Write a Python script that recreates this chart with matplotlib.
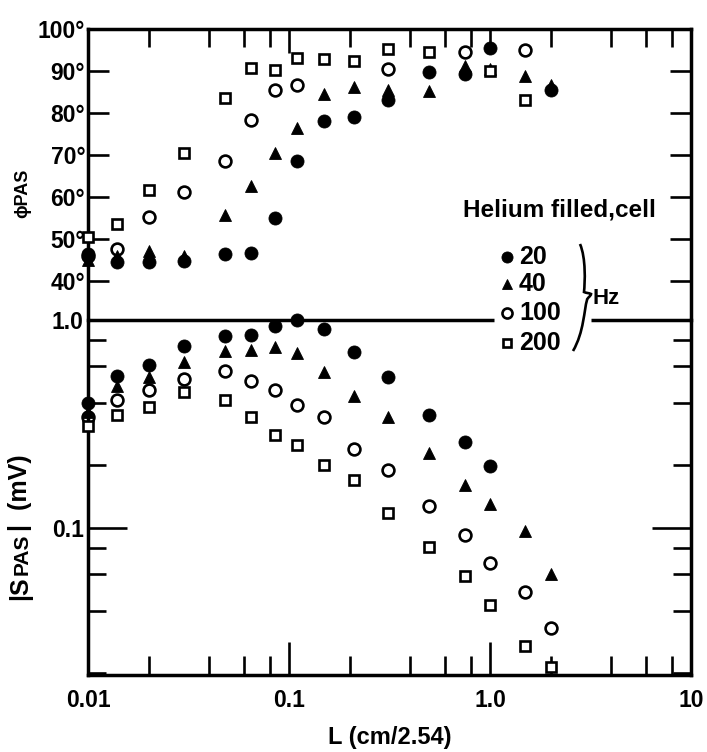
import numpy as np
import matplotlib
matplotlib.use("Agg")
import matplotlib.pyplot as plt
from matplotlib.ticker import LogLocator, NullFormatter, FixedLocator, FixedFormatter
from matplotlib.path import Path
from matplotlib.patches import PathPatch
from matplotlib.lines import Line2D

plt.rcParams['font.family'] = ['Liberation Sans', 'DejaVu Sans']
plt.rcParams['font.weight'] = 'bold'
plt.rcParams['axes.labelweight'] = 'bold'

# ---------------- data ----------------
L_values = [0.01, 0.014, 0.02, 0.03, 0.048, 0.065, 0.085, 0.11, 0.15, 0.21,
            0.31, 0.5, 0.75, 1.0, 1.5, 2.0]
nan = np.nan
phase_20hz = [46.5, 44.5, 44.6, 44.8, 46.5, 46.6, 55.0, 68.4, 78.1, 78.9,
              83.0, 89.6, 89.3, 95.5, nan, 85.5]
phase_40hz = [45.0, 46.0, 47.0, 46.0, 55.6, 62.5, 70.5, 76.3, 84.4, 86.0,
              85.3, 85.1, 91.0, 90.5, 88.8, 86.5]
phase_100hz = [46.0, 47.5, 55.3, 61.1, 68.6, 78.2, 85.4, 86.7, nan, nan,
               90.4, nan, 94.5, nan, 94.8, nan]
phase_200hz = [50.5, 53.5, 61.7, 70.4, 83.6, 90.6, 90.2, 93.0, 92.8, 92.4,
               95.2, 94.4, nan, 90.0, 83.1, nan]

amp_20hz = [0.40, 0.54, 0.61, 0.75, 0.84, 0.85, 0.94, 1.00, 0.91, 0.70,
            0.53, 0.35, 0.26, 0.198, nan, nan]
amp_40hz = [0.36, 0.48, 0.53, 0.63, 0.71, 0.72, 0.74, 0.69, 0.56, 0.43,
            0.34, 0.23, 0.16, 0.130, 0.097, 0.060]
amp_100hz = [0.34, 0.41, 0.46, 0.52, 0.57, 0.51, 0.46, 0.39, 0.34, 0.24,
             0.19, 0.127, 0.092, 0.068, 0.049, 0.033]
amp_200hz = [0.31, 0.35, 0.38, 0.45, 0.41, 0.34, 0.28, 0.25, 0.20, 0.17,
             0.118, 0.081, 0.059, 0.0425, 0.027, 0.0214]

freq_labels = ["20", "40", "100", "200"]
phase_ticks = [40, 50, 60, 70, 80, 90, 100]
phase_ticklabels = ["40°", "50°", "60°", "70°", "80°", "90°", "100°"]
amp_ticks = [0.1, 1.0]
amp_ticklabels = ["0.1", "1.0"]
x_ticks = [0.01, 0.1, 1.0, 10]
x_ticklabels = ["0.01", "0.1", "1.0", "10"]

# ---------------- layout helpers ----------------
W, H = 707, 752
def fx(px):
    return px / W
def fy(py):
    return 1 - py / H

fig = plt.figure(figsize=(7.07, 7.52), dpi=100)
fig.patch.set_facecolor('white')

x0, x1 = 88, 691
ax_top = fig.add_axes([fx(x0), fy(320), fx(x1) - fx(x0), fy(28.6) - fy(320)])
ax_bot = fig.add_axes([fx(x0), fy(675), fx(x1) - fx(x0), fy(320) - fy(675)])

styles = [
    dict(marker='o', ms=9.4, mfc='black', mec='black', mew=0.6),
    dict(marker='^', ms=9.2, mfc='black', mec='black', mew=0.6),
    dict(marker='o', ms=8.5, mfc='none', mec='black', mew=1.9),
    dict(marker='s', ms=7.0, mfc='white', mec='black', mew=1.9),
]

phase_series = [phase_20hz, phase_40hz, phase_100hz, phase_200hz]
amp_series = [amp_20hz, amp_40hz, amp_100hz, amp_200hz]

for ax, series in [(ax_top, phase_series), (ax_bot, amp_series)]:
    for i, (vals, st) in enumerate(zip(series, styles)):
        ax.plot(L_values, vals, linestyle='none', clip_on=False, zorder=3 + i, **st)
    ax.set_xscale('log')
    ax.set_xlim(0.01, 10)
    for sp in ax.spines.values():
        sp.set_linewidth(2.5)
    ax.set_facecolor('none')

# ---- top (phase) panel ----
ax_top.spines['bottom'].set_visible(False)
ax_top.set_ylim(30.7, 100)
ax_top.yaxis.set_major_locator(FixedLocator(phase_ticks))
ax_top.yaxis.set_major_formatter(FixedFormatter(phase_ticklabels))
ax_top.tick_params(axis='y', which='major', direction='in', length=15, width=1.9,
                   left=True, right=True, labelsize=16.5, pad=2)
ax_top.xaxis.set_ticks_position('top')
ax_top.xaxis.set_minor_locator(LogLocator(base=10, subs=(2, 4, 6, 8)))
ax_top.xaxis.set_minor_formatter(NullFormatter())
ax_top.tick_params(axis='x', which='both', direction='in', top=True, bottom=False,
                   labeltop=False, labelbottom=False, width=1.9)
ax_top.tick_params(axis='x', which='major', length=17)
ax_top.tick_params(axis='x', which='minor', length=13)

# ---- bottom (amplitude) panel ----
ax_bot.spines['top'].set_visible(False)
ax_bot.set_yscale('log')
ax_bot.set_ylim(0.0196, 1.0)
ax_bot.yaxis.set_major_locator(FixedLocator(amp_ticks))
ax_bot.yaxis.set_major_formatter(FixedFormatter(amp_ticklabels))
ax_bot.yaxis.set_minor_locator(LogLocator(base=10, subs=(2, 4, 6, 8)))
ax_bot.yaxis.set_minor_formatter(NullFormatter())
ax_bot.tick_params(axis='y', which='both', direction='in', left=True, right=True,
                   width=1.9, labelsize=16.5, pad=3)
ax_bot.tick_params(axis='y', which='major', length=28)
ax_bot.tick_params(axis='y', which='minor', length=13)
ax_bot.xaxis.set_major_locator(FixedLocator(x_ticks))
ax_bot.xaxis.set_major_formatter(FixedFormatter(x_ticklabels))
ax_bot.xaxis.set_minor_locator(LogLocator(base=10, subs=(2, 4, 6, 8)))
ax_bot.xaxis.set_minor_formatter(NullFormatter())
ax_bot.tick_params(axis='x', which='both', direction='in', top=False, bottom=True,
                   width=1.9, labelsize=16.5, pad=10)
ax_bot.tick_params(axis='x', which='major', length=24)
ax_bot.tick_params(axis='x', which='minor', length=14)
ax_bot.set_xlabel("L (cm/2.54)", fontsize=17, fontweight='bold', labelpad=10)

# divider line between panels (broken by the legend)
ax_bot.plot([0, 0.673], [1, 1], transform=ax_bot.transAxes, color='black',
            lw=2.5, clip_on=False, solid_capstyle='butt', zorder=2)
ax_bot.plot([0.834, 1.0], [1, 1], transform=ax_bot.transAxes, color='black',
            lw=2.5, clip_on=False, solid_capstyle='butt', zorder=2)

# ---- axis titles ----
fig.text(fx(23), fy(193), "ϕPAS", rotation=90, fontsize=13, ha='center', va='center')

t1 = fig.text(fx(32), fy(600), "|S", rotation=90, fontsize=18, ha='right', va='bottom')
t2 = ax_bot.annotate("PAS", xy=(1, 1), xycoords=t1, xytext=(0, 1),
                     textcoords='offset points', rotation=90, fontsize=15,
                     ha='right', va='bottom', annotation_clip=False)
t3 = ax_bot.annotate("|  (mV)", xy=(1, 1), xycoords=t2, xytext=(0, 2),
                     textcoords='offset points', rotation=90, fontsize=18,
                     ha='right', va='bottom', annotation_clip=False)

# ---- legend ----
fig.text(fx(463), fy(210), "Helium filled,cell", fontsize=17.5, ha='left', va='center')
leg_y = [257, 284, 313, 343]
for st, lab, yy in zip(styles, freq_labels, leg_y):
    st2 = dict(st)
    st2['ms'] = st['ms'] * 0.85
    fig.add_artist(Line2D([fx(507)], [fy(yy)], transform=fig.transFigure,
                          linestyle='none', **st2))
    fig.text(fx(519), fy(yy), lab, fontsize=18, ha='left', va='center')

brace_pts = [
    (580, 244), (586, 258), (585, 282), (584, 292),
    (586, 293), (589, 293), (591, 294),
    (591, 296), (587, 298), (587, 300),
    (584, 310), (584, 332), (573, 351),
]
codes = [Path.MOVETO, Path.CURVE4, Path.CURVE4, Path.CURVE4,
         Path.CURVE4, Path.CURVE4, Path.CURVE4,
         Path.CURVE4, Path.CURVE4, Path.CURVE4,
         Path.CURVE4, Path.CURVE4, Path.CURVE4]
brace = Path([(fx(px), fy(py)) for px, py in brace_pts], codes)
fig.add_artist(PathPatch(brace, transform=fig.transFigure, fill=False,
                         lw=1.9, edgecolor='black'))
fig.text(fx(593), fy(299), "Hz", fontsize=16, ha='left', va='center')

fig.savefig("out.png", dpi=100, facecolor='white')
